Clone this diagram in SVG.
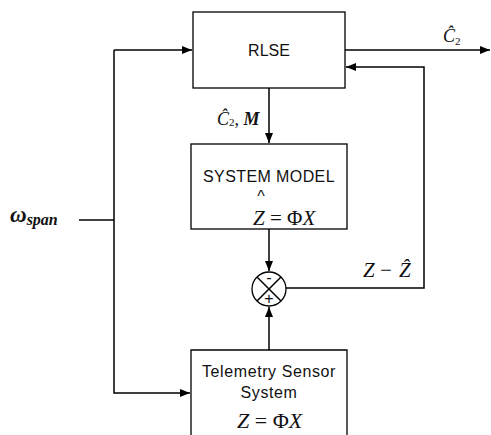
<svg xmlns="http://www.w3.org/2000/svg" width="491" height="435" viewBox="0 0 491 435">
<defs>
<marker id="ah" markerWidth="10" markerHeight="8" refX="10" refY="4" orient="auto" markerUnits="userSpaceOnUse">
<path d="M0,0 L10,4 L0,8 Z" fill="#000"/>
</marker>
<style>
.box{fill:#fff;stroke:#000;stroke-width:1.3}
.ln{fill:none;stroke:#000;stroke-width:1.5}
.sans{font-family:"Liberation Sans",Arial,sans-serif;font-size:16px;fill:#111}
.m{font-family:"Liberation Serif","Times New Roman",serif;font-style:italic;fill:#111}
.r{font-family:"Liberation Serif","Times New Roman",serif;fill:#111}
</style>
</defs>
<rect width="491" height="435" fill="#fff"/>
<g id="connectors">
<path class="ln" d="M345,50 H490" marker-end="url(#ah)"/>
<path class="ln" d="M114,50 H192" marker-end="url(#ah)"/>
<path class="ln" d="M114,50 V393 H190" marker-end="url(#ah)"/>
<path class="ln" d="M79,220 H114"/>
<path class="ln" d="M269,88 V143" marker-end="url(#ah)"/>
<path class="ln" d="M269,229 V271" marker-end="url(#ah)"/>
<path class="ln" d="M269,350 V307" marker-end="url(#ah)"/>
<path class="ln" d="M286,288 H424 V67 H346" marker-end="url(#ah)"/>
</g>
<g id="rlse">
<rect class="box" x="193" y="12" width="152" height="76"/>
<text class="sans" x="269" y="56" text-anchor="middle">RLSE</text>
</g>
<g id="system-model">
<rect class="box" x="191" y="144" width="156" height="85"/>
<text class="sans" x="269" y="182" text-anchor="middle" letter-spacing="0.4">SYSTEM MODEL</text>
<text class="sans" x="261" y="202" text-anchor="middle" font-size="15">^</text>
<text class="m" x="253" y="225" font-size="21">Z<tspan class="r" font-style="normal"> = Φ</tspan>X</text>
</g>
<g id="summer">
<circle cx="269" cy="289" r="17" fill="#fff" stroke="#000" stroke-width="1.3"/>
<path class="ln" d="M257,277 L281,301 M281,277 L257,301" stroke-width="1.2"/>
<text class="sans" x="269" y="283" text-anchor="middle" font-size="11">-</text>
<text class="sans" x="269" y="304" text-anchor="middle" font-size="10">+</text>
</g>
<g id="telemetry">
<path class="box" d="M191,436 V350 H347 V436"/>
<text class="sans" x="269" y="377" text-anchor="middle" letter-spacing="0.6">Telemetry Sensor</text>
<text class="sans" x="269" y="398" text-anchor="middle" letter-spacing="0.6">System</text>
<text class="m" x="237" y="428" font-size="22">Z<tspan class="r" font-style="normal"> = Φ</tspan>X</text>
</g>
<g id="labels">
<text class="m" x="443" y="42" font-size="18">Ĉ<tspan font-size="11" dy="3" font-style="normal">2</tspan></text>
<text class="m" x="217" y="125" font-size="18">Ĉ<tspan font-size="11" dy="1" font-style="normal">2</tspan><tspan dy="-1" font-style="normal">, </tspan><tspan font-weight="bold">M</tspan></text>
<text class="m" x="363" y="277" font-size="21">Z<tspan class="r" font-style="normal"> − </tspan><tspan dx="2">Ẑ</tspan></text>
<text class="m" x="10" y="222" font-size="23" font-weight="bold">ω<tspan font-size="16" dy="3">span</tspan></text>
</g>
</svg>
